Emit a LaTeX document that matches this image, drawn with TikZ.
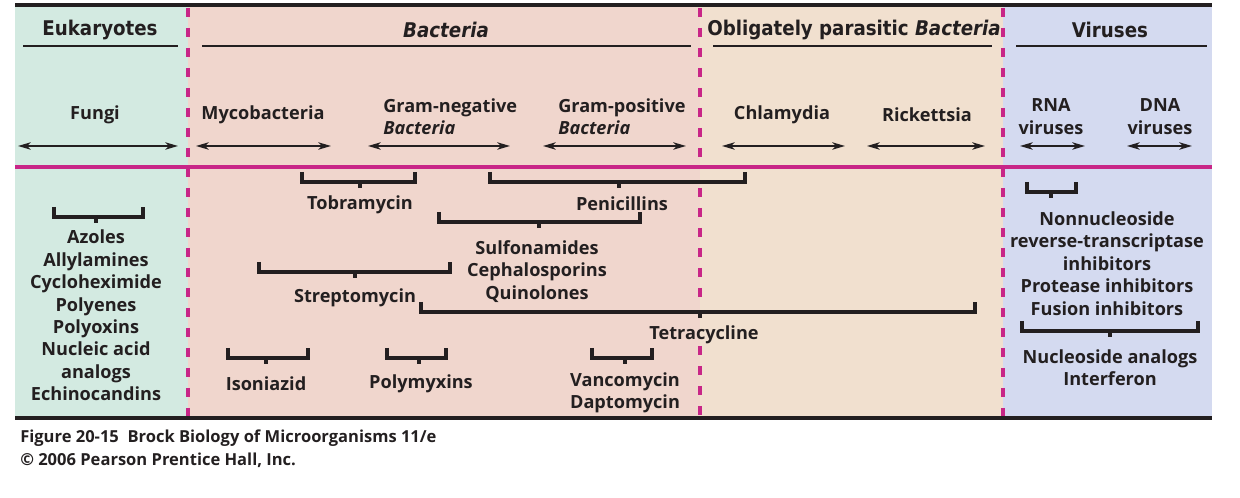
\documentclass[tikz,border=0pt]{standalone}
\usepackage{fontspec}
\setmainfont{Open Sans}
\newfontfamily\headfont{DejaVu Sans Condensed}
\usetikzlibrary{arrows.meta}
\definecolor{ink}{RGB}{35,31,32}
\definecolor{eukbg}{RGB}{211,234,225}
\definecolor{bacbg}{RGB}{240,214,205}
\definecolor{obbg}{RGB}{241,224,207}
\definecolor{virbg}{RGB}{212,218,240}
\definecolor{mag}{RGB}{200,38,135}
\newcommand\drugbracket[5]{% x1 x2 ytop yh xtick
  \draw[brk] (#1,#3) -- (#1,#4) -- (#2,#4) -- (#2,#3);
  \draw[brk] (#5,#4) -- (#5,#4+6);}
\begin{document}
\begin{tikzpicture}[x=0.75pt,y=-0.75pt,
  lbl/.style={font=\bfseries\fontsize{13.6pt}{16.8pt}\selectfont, text=ink, align=center, inner sep=0pt, yshift=-1.5pt},
  lblleft/.style={lbl, align=left},
  head/.style={font=\headfont\bfseries\fontsize{15.2pt}{17pt}\selectfont, text=ink, inner sep=0pt},
  captext/.style={font=\bfseries\fontsize{12.4pt}{17.2pt}\selectfont, text=ink, align=left, inner sep=0pt},
  uline/.style={draw=ink, line width=1.5pt},
  spanarrow/.style={draw=ink, line width=1.5pt, {Stealth[length=9.5pt,width=5.5pt,inset=2.8pt]}-{Stealth[length=9.5pt,width=5.5pt,inset=2.8pt]}},
  brk/.style={draw=ink, line width=2.3pt, line cap=butt, line join=miter},
  divider/.style={draw=mag, line width=3.4pt, dash pattern=on 6.8pt off 8.2pt}
]
\useasboundingbox (0,0) rectangle (1240,498);
% panels
\fill[eukbg] (15,5) rectangle (188,418);
\fill[bacbg] (188,5) rectangle (700,418);
\fill[obbg] (700,5) rectangle (1003,418);
\fill[virbg] (1003,5) rectangle (1212,418);
% dividers
\draw[divider] (188,8) -- (188,418);
\draw[divider] (1003,8) -- (1003,418);
\draw[divider] (700,8) -- (700,165);
\draw[divider] (700,188) -- (700,300);
\draw[divider] (700,346) -- (700,418);
% rules
\draw[draw=mag, line width=3pt] (15,167) -- (1212,167);
\draw[draw=ink, line width=2.4pt] (15,5) -- (1212,5);
\draw[draw=ink, line width=2.4pt] (15,418) -- (1212,418);
% headings
\node[head] (hEuk) at (100,30) {Eukaryotes};
\node[head] (hBac) at (446,30) {\itshape Bacteria};
\node[head] (hObl) at (854,30) {Obligately parasitic \textit{Bacteria}};
\node[head] (hVir) at (1110,30) {Viruses};
\draw[uline] (23,46) -- (178,46);
\draw[uline] (202,46) -- (691,46);
\draw[uline] (713,46) -- (992,46);
\draw[uline] (1016,46) -- (1207,46);
% groups
\node[lbl] (fungi) at (95,113) {Fungi};
\node[lbl] (myco) at (263,113) {Mycobacteria};
\node[lblleft, anchor=west] (gneg) at (383,114.5) {Gram-negative\\\textit{Bacteria}};
\node[lblleft, anchor=west] (gpos) at (558,114.5) {Gram-positive\\\textit{Bacteria}};
\node[lbl] (chla) at (782,113) {Chlamydia};
\node[lbl] (rick) at (927,113) {Rickettsia};
\node[lbl] (rna) at (1051,114.5) {RNA\\viruses};
\node[lbl] (dna) at (1160,114.5) {DNA\\viruses};
% ranges
\draw[spanarrow] (18,146) -- (178,146);
\draw[spanarrow] (196,146) -- (331,146);
\draw[spanarrow] (368,146) -- (510,146);
\draw[spanarrow] (543,146) -- (686,146);
\draw[spanarrow] (722,146) -- (845,146);
\draw[spanarrow] (867,146) -- (985,146);
\draw[spanarrow] (1020,146) -- (1085,146);
\draw[spanarrow] (1127,146) -- (1192,146);
% brackets
\drugbracket{302}{415}{172}{182}{360}
\drugbracket{490}{745}{172}{182}{619}
\drugbracket{439}{640}{212}{222}{539}
\drugbracket{259}{450}{262}{272}{355}
\drugbracket{421}{975}{302}{312}{700}
\drugbracket{54}{143}{207}{217}{96}
\drugbracket{228}{308}{348}{358}{266}
\drugbracket{387}{446}{348}{358}{419}
\drugbracket{592}{652}{348}{358}{625}
\drugbracket{1027}{1076}{182}{192}{1051}
\drugbracket{1022}{1198}{321}{331}{1110}
% drug labels
\node[lbl] (tobra) at (360,203) {Tobramycin};
\node[lbl] (peni) at (622,202) {Penicillins};
\node[lbl] (sulfo) at (537,269.5) {Sulfonamides\\Cephalosporins\\Quinolones};
\node[lbl] (strep) at (355,296) {Streptomycin};
\node[lbl] (tetra) at (704,333) {Tetracycline};
\node[lbl] (fungal) at (96,313.5) {Azoles\\Allylamines\\Cycloheximide\\Polyenes\\Polyoxins\\Nucleic acid\\analogs\\Echinocandins};
\node[lbl] (iso) at (266,382) {Isoniazid};
\node[lbl] (poly) at (421,382) {Polymyxins};
\node[lbl] (vanco) at (625,391) {Vancomycin\\Daptomycin};
\node[lbl] (nnrti) at (1107,261.5) {Nonnucleoside\\reverse-transcriptase\\inhibitors\\Protease inhibitors\\Fusion inhibitors};
\node[lbl] (nucl) at (1110,366) {Nucleoside analogs\\Interferon};
% caption
\node[captext, anchor=west] (caption) at (20,448.5) {Figure 20-15\ \ Brock Biology of Microorganisms 11/e\\\textcopyright\ 2006 Pearson Prentice Hall, Inc.};
\end{tikzpicture}
\end{document}
